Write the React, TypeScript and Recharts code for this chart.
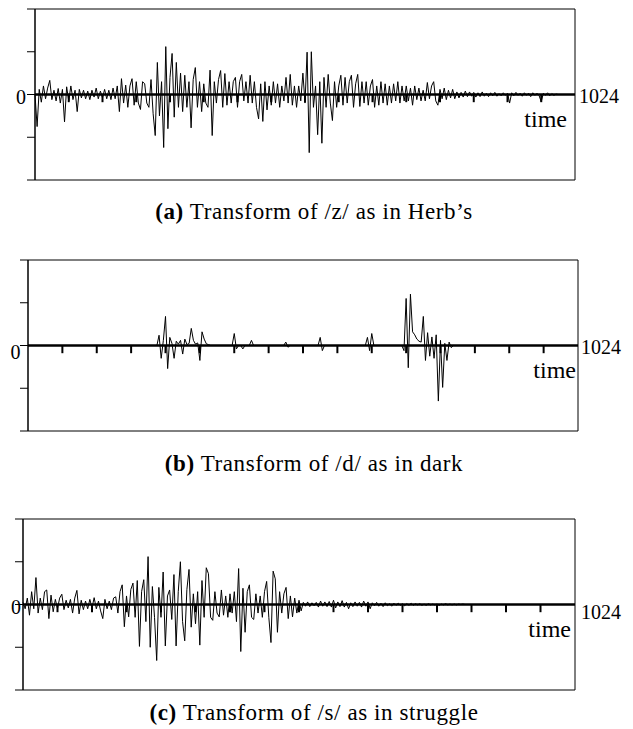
import React, { useMemo } from 'react';
import { LineChart, Line, XAxis, YAxis, ReferenceLine } from 'recharts';

// one value every STEP samples, 0..1024
const STEP = 4;
const Y_TICKS = [-2, -1, 0, 1, 2];
const X_TICKS = [64, 128, 192, 256, 320, 384, 448, 512, 576, 640, 704, 768, 832, 896, 960];

// (a) /z/ as in Herb's
const Z_VALUES = [
  0, -0.75, 0.12, -0.18, 0.2, -0.1, 0.15, 0.33, -0.12, 0.1, -0.15, 0.14, -0.2, 0.12, -0.64, 0.18,
  -0.15, 0.2, -0.12, 0.1, -0.4, 0.12, -0.08, 0.1, -0.1, 0.08, -0.12, 0.1, -0.06, 0.15, -0.1, 0.08,
  -0.08, 0.12, -0.1, 0.1, -0.12, 0.15, -0.1, 0.2, -0.4, 0.37, -0.2, 0.22, -0.3, 0.2, 0.37, -0.25,
  0.3, -0.2, -0.35, 0.3, 0.25, -0.2, -0.3, 0.35, -0.45, -0.96, 0.75, -0.5, 0.3, -1.24, 1.12, -0.8,
  0.4, 0.96, -0.53, 0.75, -0.3, 0.5, -0.4, 0.45, -0.3, 0.3, -0.78, 0.35, 0.63, -0.3, 0.3, -0.4,
  0.25, -0.2, -0.3, 0.57, -0.96, 0.3, -0.2, 0.35, 0.56, -0.3, 0.49, -0.25, 0.3, -0.2, 0.3, 0.4,
  -0.3, 0.3, 0.47, -0.15, 0.3, -0.2, 0.45, -0.2, 0.3, -0.3, -0.57, 0.25, -0.63, 0.3, -0.36, 0.2,
  -0.25, 0.3, -0.2, 0.25, -0.3, 0.2, -0.15, 0.4, -0.2, 0.47, -0.25, 0.2, -0.3, 0.2, -0.15, 0.5,
  -0.2, 0.99, -1.36, 1.0, -0.3, 0.2, -0.94, 0.3, -1.14, 0.4, -0.3, 0.47, -0.2, -0.61, 0.3, -0.3,
  0.2, 0.45, -0.25, 0.4, -0.2, 0.3, 0.45, -0.3, 0.25, 0.47, -0.28, 0.3, -0.2, 0.3, -0.25, 0.2,
  0.35, -0.3, 0.2, -0.25, 0.3, -0.2, 0.25, -0.25, 0.2, -0.2, 0.25, -0.15, 0.3, -0.2, 0.2, -0.15,
  0.2, -0.15, 0.15, -0.25, 0.2, -0.12, 0.15, -0.15, 0.1, -0.15, 0.28, -0.1, 0.2, 0.3, -0.15, -0.25,
  0.12, -0.1, 0.15, -0.12, 0.1, -0.08, 0.12, -0.1, 0.06, -0.08, 0.05, -0.06, 0.08, -0.05, 0.06, -0.04,
  0.05, -0.06, 0.04, -0.05, 0.06, -0.04, 0.03, -0.05, 0.04, -0.03, 0.05, -0.04, 0.02, -0.03, 0.04, -0.02,
  0.03, -0.2, 0.04, -0.03, 0.05, -0.02, 0.03, -0.04, 0.04, -0.02, 0.03, -0.05, 0.04, -0.02, 0.03, -0.03,
  -0.17, 0.03, -0.02, 0.04, -0.03, 0.02, -0.02, 0.01, 0, 0, 0, 0, 0, 0, 0, 0,
  0,
];

// (b) /d/ as in dark
const D_VALUES = [
  0, 0, 0, 0, 0, 0, 0, 0, 0, 0, 0, 0, 0, 0, 0, 0,
  0, 0, 0, 0, 0, 0, 0, 0, 0, 0, 0, 0, 0, 0, 0, 0,
  0, 0, 0, 0, 0, 0, 0, 0, 0, 0, 0, 0, 0, 0, 0, 0,
  0, 0, 0, 0, 0, 0, 0, 0, 0, 0, 0, 0, 0, 0.24, -0.3, 0.12,
  0.68, -0.54, 0.19, 0.05, -0.3, 0.1, 0.03, 0.12, -0.2, 0.15, 0.02, 0.05, 0.4, 0.12, 0.03, 0.06,
  -0.35, 0.32, 0.15, 0.04, 0.02, 0, 0, 0, 0, 0, 0, 0, 0, 0, 0, 0,
  0.28, -0.08, 0, 0, -0.08, 0, 0, 0, 0.12, 0, 0, 0, 0, 0, 0, 0,
  0, 0, 0, 0, 0, 0, 0, 0, 0.08, -0.04, 0, 0, 0, 0, 0, 0,
  0, 0, 0, 0, 0, 0, 0, 0, 0.19, -0.12, 0, 0, 0, 0, 0, 0,
  0, 0, 0, 0, 0, 0, 0, 0, 0, 0, 0, 0, 0, 0, 0.19, -0.12,
  0.28, 0, 0, 0, 0, 0, 0, 0, 0, 0, 0, 0, 0, 0, 0, -0.12,
  1.1, -0.52, 1.2, 0.32, 0.25, 0.15, 0.1, 0.08, 0.68, -0.35, 0.3, -0.25, 0.2, -0.3, 0.25, -1.3,
  0.12, -0.98, 0.05, -0.35, 0.08, -0.05, 0, 0, 0, 0, 0, 0, 0, 0, 0, 0,
  0, 0, 0, 0, 0, 0, 0, 0, 0, 0, 0, 0, 0, 0, 0, 0,
  0, 0, 0, 0, 0, 0, 0, 0, 0, 0, 0, 0, 0, 0, 0, 0,
  0, 0, 0, 0, 0, 0, 0, 0, 0, 0, 0, 0, 0, 0, 0, 0,
  0,
];

// (c) /s/ as in struggle
const S_VALUES = [
  0.05, -0.1, 0.15, -0.25, 0.3, -0.1, 0.63, -0.2, 0.15, -0.12, 0.3, 0.34, -0.33, 0.22, -0.17, 0.12,
  -0.1, 0.15, 0.24, -0.12, 0.1, -0.08, 0.12, -0.2, 0.15, 0.33, -0.22, 0.1, -0.12, 0.08, -0.1, 0.12,
  -0.08, 0.16, -0.1, 0.08, -0.15, -0.33, 0.12, -0.1, 0.08, -0.12, 0.15, 0.18, -0.2, 0.3, 0.46, -0.52,
  0.2, -0.29, 0.35, 0.5, -0.3, 0.56, -0.98, 0.3, 0.58, -0.4, 1.12, -1.0, 0.42, -0.3, -1.31, 0.4,
  -0.3, 0.76, -0.97, 0.2, 0.34, -0.35, 0.7, -0.97, 0.3, 1.0, -0.4, -0.85, 0.35, 0.82, -0.53, 0.25,
  -0.45, 0.3, -0.95, 0.56, -0.3, 0.86, 0.72, -0.3, -0.37, 0.3, -0.2, -0.29, 0.34, -0.25, 0.2, -0.3,
  0.25, -0.2, 0.3, -0.4, 0.84, -1.1, 0.38, -0.65, 0.3, 0.46, -0.3, -0.35, 0.25, -0.2, 0.2, -0.3,
  0.3, 0.54, -0.3, -0.89, 0.78, 0.6, -0.65, 0.3, -0.2, 0.25, 0.4, -0.33, 0.2, -0.29, 0.15, -0.2,
  0.1, -0.15, 0.05, -0.04, 0.06, -0.05, 0.04, -0.03, 0.05, -0.06, 0.08, -0.04, 0.06, -0.05, 0.07, -0.06,
  0.1, -0.08, 0.06, -0.05, 0.09, -0.06, 0.05, -0.1, 0.04, -0.05, 0.06, -0.04, 0.05, -0.06, 0.08, -0.04,
  0.06, -0.1, 0.04, -0.03, 0.05, -0.04, 0.03, -0.05, 0.04, -0.03, 0.02, -0.04, 0.03, -0.02, 0.03, -0.02,
  0.02, -0.03, 0.02, -0.02, 0.03, -0.02, 0.02, -0.01, 0.02, -0.02, 0.01, -0.02, 0.02, -0.01, 0.01, -0.01,
  0.01, -0.02, 0.01, -0.01, 0.02, -0.01, 0.01, -0.01, 0.01, -0.01, 0.01, 0, 0.01, 0, 0, 0,
  0, 0, 0, 0, 0, 0, 0, 0, 0, 0, 0, 0, 0, 0, 0, 0,
  0, 0, 0, 0, 0, 0, 0, 0, 0, 0, 0, 0, 0, 0, 0, 0,
  0, 0, 0, 0, 0, 0, 0, 0, 0, 0, 0, 0, 0, 0, 0, 0,
  0,
];

const SERIF = '"Liberation Serif", "Times New Roman", serif';

type PanelProps = {
  values: number[];
  top: number;
  axisX: number;
  rightX: number;
  zeroDx: number;
  zeroDy: number;
  numDx: number;
  numDy: number;
  timeInset: number;
};

function Panel({ values, top, axisX, rightX, zeroDx, zeroDy, numDx, numDy, timeInset }: PanelProps) {
  const data = useMemo(() => values.map((v, i) => ({ t: i * STEP, v })), [values]);

  const zeroTick = (p: any) => {
    if (p.payload.value !== 0) return <g />;
    return (
      <text x={p.x + zeroDx} y={p.y + zeroDy} textAnchor="end" fontFamily={SERIF} fontSize={20} fill="#000">
        0
      </text>
    );
  };

  const zeroLabel = (p: any) => {
    const vb = p.viewBox || {};
    const right = vb.x + vb.width;
    return (
      <g>
        <text x={right + numDx} y={vb.y + numDy} fontFamily={SERIF} fontSize={20} fill="#000">
          1024
        </text>
        <text x={right - timeInset} y={vb.y + 32} textAnchor="end" fontFamily={SERIF} fontSize={24} fill="#000">
          time
        </text>
      </g>
    );
  };

  return (
    <div style={{ position: 'absolute', left: 0, top }}>
      <LineChart width={633} height={190} data={data} margin={{ top: 10, right: 633 - rightX, bottom: 9, left: 0 }}>
        <XAxis dataKey="t" type="number" domain={[0, 1024]} hide />
        <YAxis
          type="number"
          domain={[-2, 2]}
          ticks={Y_TICKS}
          interval={0}
          width={axisX}
          tickSize={8}
          tickLine={{ stroke: '#000' }}
          axisLine={{ stroke: '#000', strokeWidth: 1.5 }}
          tick={zeroTick}
        />
        <ReferenceLine y={2} stroke="#000" />
        <ReferenceLine y={-2} stroke="#000" />
        <ReferenceLine x={1024} stroke="#000" />
        <Line type="linear" dataKey="v" stroke="#000" strokeWidth={1} dot={false} isAnimationActive={false} />
        <ReferenceLine y={0} stroke="#000" strokeWidth={2.5} label={zeroLabel} />
        {X_TICKS.map((t) => (
          <ReferenceLine
            key={t}
            segment={[
              { x: t, y: 0 },
              { x: t, y: -0.18 },
            ]}
            stroke="#000"
            strokeWidth={2}
          />
        ))}
      </LineChart>
    </div>
  );
}

function Caption({ y, tag, text }: { y: number; tag: string; text: string }) {
  return (
    <text x={314} y={y} textAnchor="middle" fontFamily={SERIF} fontSize={23} letterSpacing={0.6} fill="#000">
      <tspan fontWeight="bold">{tag}</tspan> {text}
    </text>
  );
}

export default function App() {
  return (
    <div style={{ position: 'absolute', left: 0, top: 0, width: 633, height: 729, background: '#fff' }}>
      <Panel values={Z_VALUES} top={-1} axisX={35} rightX={575} zeroDx={1} zeroDy={9} numDx={4} numDy={8} timeInset={8} />
      <Panel values={D_VALUES} top={250} axisX={28} rightX={578} zeroDx={2.5} zeroDy={13} numDx={3} numDy={8} timeInset={2} />
      <Panel values={S_VALUES} top={509} axisX={23} rightX={575} zeroDx={8} zeroDy={9} numDx={6} numDy={14} timeInset={4} />
      <svg width={633} height={729} style={{ position: 'absolute', left: 0, top: 0, pointerEvents: 'none' }}>
        <Caption y={219} tag="(a)" text="Transform of /z/ as in Herb’s" />
        <Caption y={471} tag="(b)" text="Transform of /d/ as in dark" />
        <Caption y={720} tag="(c)" text="Transform of /s/ as in struggle" />
      </svg>
    </div>
  );
}
